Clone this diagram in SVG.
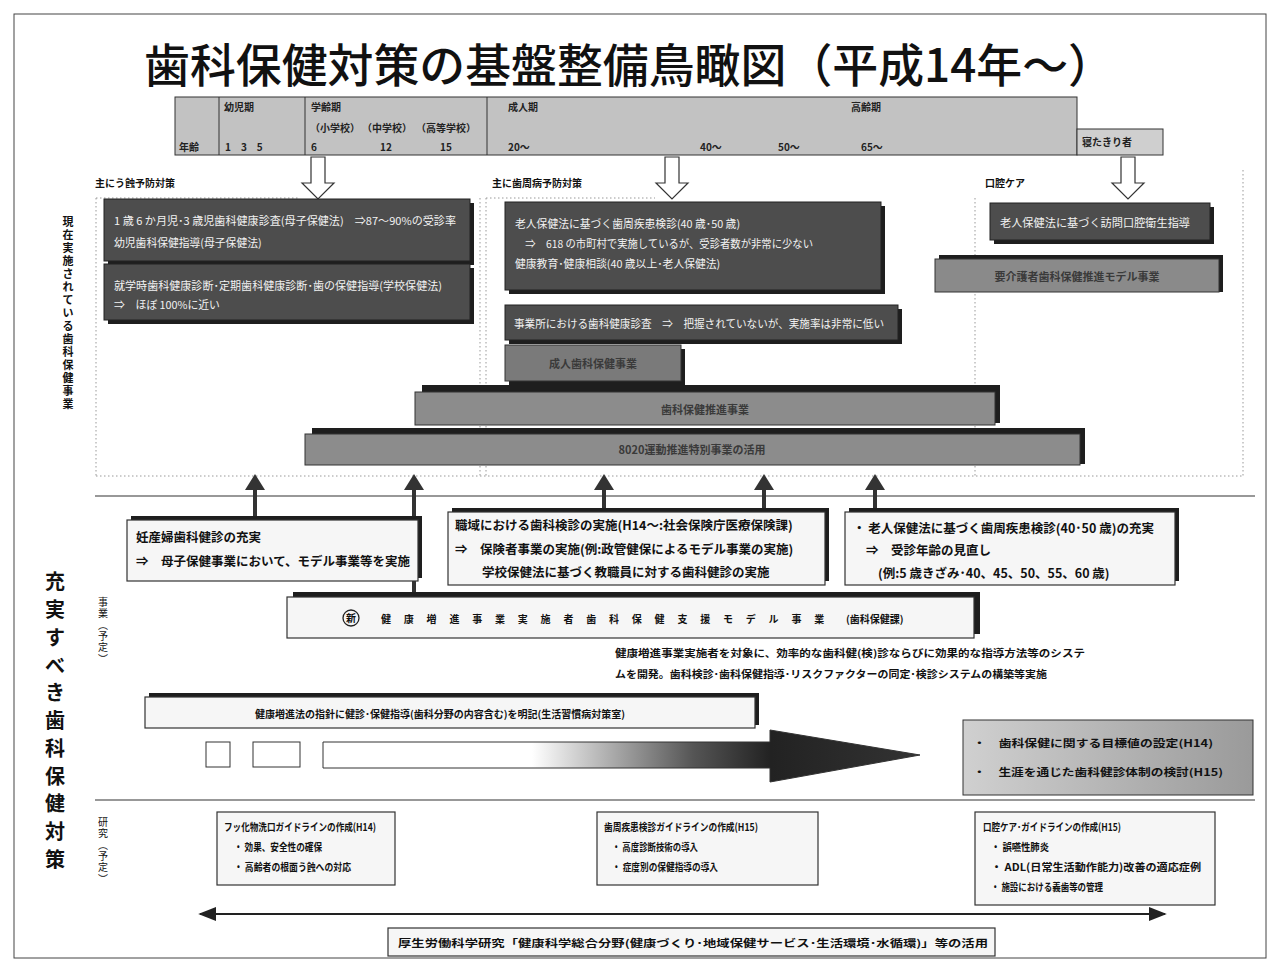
<svg xmlns="http://www.w3.org/2000/svg" width="1279" height="970" viewBox="0 0 1279 970">
<defs>
<style>
text{font-family:"Noto Sans CJK JP","Noto Sans CJK SC",sans-serif;fill:#111}
.w{fill:#f2f2f2;font-size:10.8px}
.hd{font-size:10px;font-weight:bold;fill:#222}
.sec{font-size:10px;font-weight:bold}
.b{font-size:12.5px;font-weight:bold}
.s{font-size:10px;font-weight:bold}
.bt{font-size:10.5px;font-weight:bold}
.dot{fill:none;stroke:#999;stroke-width:1;stroke-dasharray:1.5 2.5}
.dark{fill:#4d4d4d;stroke:#222;stroke-width:1}
.shd{fill:#1e1e1e}
.gray{fill:#8c8c8c;stroke:#333;stroke-width:1}
.lbox{fill:#f6f6f6;stroke:#333;stroke-width:1.2}
.line{stroke:#333;stroke-width:4;fill:none}
.up{fill:#333}
.open{fill:#fff;stroke:#333;stroke-width:1.2}
.gt{font-size:11px;font-weight:bold;fill:#3a3a3a}
</style>
<linearGradient id="ag" x1="0" y1="0" x2="1" y2="0">
<stop offset="0" stop-color="#fff"/>
<stop offset="0.35" stop-color="#fff"/>
<stop offset="0.62" stop-color="#555"/>
<stop offset="0.75" stop-color="#222"/>
<stop offset="1" stop-color="#333"/>
</linearGradient>
<linearGradient id="rg" x1="0" y1="0" x2="1" y2="0">
<stop offset="0" stop-color="#d0d0d0"/>
<stop offset="1" stop-color="#9a9a9a"/>
</linearGradient>
<marker id="ah" viewBox="0 0 10 10" refX="9" refY="5" markerWidth="9" markerHeight="9" orient="auto-start-reverse"><path d="M0,1 L10,5 L0,9 z" fill="#222"/></marker>
</defs>
<rect x="0" y="0" width="1279" height="970" fill="#fff"/>
<rect x="14" y="14" width="1252" height="944" fill="none" stroke="#444" stroke-width="1"/>

<g id="title"><text x="629" y="82" font-size="46" text-anchor="middle" textLength="970" lengthAdjust="spacingAndGlyphs" style="font-weight:500">歯科保健対策の基盤整備鳥瞰図（平成14年～）</text></g>

<g id="header">
<rect x="175" y="97" width="902" height="58" fill="#c2c2c2" stroke="#333"/>
<rect x="1077" y="129" width="86" height="26" fill="#cfcfcf" stroke="#333"/>
<line x1="219" y1="97" x2="219" y2="155" stroke="#333"/>
<line x1="305" y1="97" x2="305" y2="155" stroke="#333"/>
<line x1="487" y1="97" x2="487" y2="155" stroke="#333"/>
<text class="hd" x="224" y="111">幼児期</text>
<text class="hd" x="311" y="111">学齢期</text>
<text class="hd" x="310" y="132">（小学校）</text>
<text class="hd" x="362" y="132">（中学校）</text>
<text class="hd" x="416" y="132">（高等学校）</text>
<text class="hd" x="508" y="111">成人期</text>
<text class="hd" x="851" y="111">高齢期</text>
<text class="hd" x="179" y="151">年齢</text>
<text class="hd" x="225" y="151">1　3　5</text>
<text class="hd" x="311" y="151">6</text>
<text class="hd" x="380" y="151">12</text>
<text class="hd" x="440" y="151">15</text>
<text class="hd" x="508" y="151">20～</text>
<text class="hd" x="700" y="151">40～</text>
<text class="hd" x="778" y="151">50～</text>
<text class="hd" x="861" y="151">65～</text>
<text class="hd" x="1082" y="146">寝たきり者</text>
</g>

<g id="open-arrows">
<path class="open" d="M311,157 h14 v26 h9 l-16,16 l-16,-16 h9 z"/>
<path class="open" d="M665,157 h14 v26 h9 l-16,16 l-16,-16 h9 z"/>
<path class="open" d="M1121,157 h14 v26 h9 l-16,16 l-16,-16 h9 z"/>
</g>

<g id="sections">
<text class="sec" x="95" y="187">主にう蝕予防対策</text>
<text class="sec" x="492" y="187">主に歯周病予防対策</text>
<text class="sec" x="985" y="187">口腔ケア</text>
<path class="dot" d="M96,198 V476 M96,198 H300 M480,198 V476 M486,198 V476 M486,198 H655 M975,198 V476 M1243,170 V476 M96,476 H1243"/>
<text font-size="11" font-weight="bold" text-anchor="middle" x="68 68 68 68 68 68 68 68 68 68 68 68 68 68 68" y="226 239 252 265 278 291 304 317 330 343 356 369 382 395 408">現在実施されている歯科保健事業</text>
</g>

<g id="current-left">
<rect class="shd" x="108" y="203" width="366" height="62"/>
<rect class="dark" x="104" y="199" width="366" height="62"/>
<text class="w" x="114" y="225" textLength="342" lengthAdjust="spacingAndGlyphs">1 歳 6 か月児･3 歳児歯科健康診査(母子保健法)　⇒87～90%の受診率</text>
<text class="w" x="114" y="247">幼児歯科保健指導(母子保健法)</text>
<rect class="shd" x="108" y="268" width="366" height="56"/>
<rect class="dark" x="104" y="264" width="366" height="56"/>
<text class="w" x="114" y="290" textLength="328" lengthAdjust="spacingAndGlyphs">就学時歯科健康診断･定期歯科健康診断･歯の保健指導(学校保健法)</text>
<text class="w" x="114" y="309">⇒　ほぼ 100%に近い</text>
</g>

<g id="current-middle">
<rect class="shd" x="509" y="206" width="376" height="88"/>
<rect class="dark" x="505" y="202" width="376" height="88"/>
<text class="w" x="515" y="228">老人保健法に基づく歯周疾患検診(40 歳･50 歳)</text>
<text class="w" x="515" y="248" textLength="298" lengthAdjust="spacingAndGlyphs">　⇒　618 の市町村で実施しているが、受診者数が非常に少ない</text>
<text class="w" x="515" y="268">健康教育･健康相談(40 歳以上･老人保健法)</text>
<rect class="shd" x="509" y="309" width="393" height="35"/>
<rect class="dark" x="505" y="305" width="393" height="35"/>
<text class="w" x="514" y="328" textLength="370" lengthAdjust="spacingAndGlyphs">事業所における歯科健康診査　⇒　把握されていないが、実施率は非常に低い</text>
<rect class="shd" x="509" y="349" width="176" height="36"/>
<rect class="gray" x="505" y="345" width="176" height="36" style="fill:#7a7a7a"/>
<text class="gt" x="593" y="368" text-anchor="middle">成人歯科保健事業</text>
</g>

<g id="current-right">
<rect class="shd" x="994" y="207" width="220" height="37"/>
<rect class="dark" x="990" y="203" width="220" height="37"/>
<text class="w" x="1000" y="227" textLength="190" lengthAdjust="spacingAndGlyphs">老人保健法に基づく訪問口腔衛生指導</text>
<rect class="shd" x="939" y="255" width="284" height="37"/>
<rect class="gray" x="935" y="259" width="284" height="33" style="fill:#8a8a8a"/>
<text class="gt" x="1077" y="281" text-anchor="middle">要介護者歯科保健推進モデル事業</text>
</g>

<g id="bars">
<rect class="shd" x="422" y="385" width="578" height="38"/>
<rect class="gray" x="415" y="392" width="580" height="33"/>
<text class="gt" x="705" y="414" text-anchor="middle">歯科保健推進事業</text>
<rect class="shd" x="312" y="428" width="773" height="36"/>
<rect class="gray" x="305" y="434" width="775" height="31"/>
<text class="gt" x="692" y="454" text-anchor="middle">8020運動推進特別事業の活用</text>
</g>

<g id="dividers">
<line x1="95" y1="496" x2="1255" y2="496" stroke="#333" stroke-width="1.2"/>
<line x1="95" y1="800" x2="1255" y2="800" stroke="#333" stroke-width="1.2"/>
<text font-size="20" font-weight="bold" text-anchor="middle" x="55 55 55 55 55 55 55 55 55 55 55" y="589 617 645 673 700 728 756 784 811 839 867">充実すべき歯科保健対策</text>
<text font-size="10" text-anchor="middle" x="103 103 103 103 103 103" y="606 617 629 640 651 663">事業︵予定︶</text>
<text font-size="10" text-anchor="middle" x="103 103 103 103 103 103" y="826 837 849 860 871 883">研究︵予定︶</text>
</g>

<g id="connectors">
<line class="line" x1="255" y1="488" x2="255" y2="520"/>
<path class="up" d="M245,490 L255,474 L265,490 z"/>
<line class="line" x1="414" y1="488" x2="414" y2="598"/>
<path class="up" d="M404,490 L414,474 L424,490 z"/>
<line class="line" x1="604" y1="488" x2="604" y2="512"/>
<path class="up" d="M594,490 L604,474 L614,490 z"/>
<line class="line" x1="764" y1="488" x2="764" y2="512"/>
<path class="up" d="M754,490 L764,474 L774,490 z"/>
<line class="line" x1="875" y1="488" x2="875" y2="512"/>
<path class="up" d="M865,490 L875,474 L885,490 z"/>
<line x1="200" y1="914" x2="1165" y2="914" stroke="#222" stroke-width="2" marker-start="url(#ah)" marker-end="url(#ah)"/>
</g>

<g id="box-ninsanpu">
<rect class="shd" x="131" y="516" width="291" height="62"/>
<rect class="lbox" x="127" y="520" width="291" height="61"/>
<text class="b" x="136" y="542">妊産婦歯科健診の充実</text>
<text class="b" x="136" y="566">⇒　母子保健事業において、モデル事業等を実施</text>
</g>

<g id="box-shokuiki">
<rect class="shd" x="452" y="508" width="377" height="73"/>
<rect class="lbox" x="448" y="512" width="377" height="73"/>
<text class="b" x="455" y="530">職域における歯科検診の実施(H14～:社会保険庁医療保険課)</text>
<text class="b" x="455" y="554">⇒　保険者事業の実施(例:政管健保によるモデル事業の実施)</text>
<text class="b" x="482" y="577">学校保健法に基づく教職員に対する歯科健診の実施</text>
</g>

<g id="box-roujin">
<rect class="shd" x="849" y="508" width="330" height="73"/>
<rect class="lbox" x="845" y="512" width="330" height="73"/>
<text class="b" x="853" y="533">・ 老人保健法に基づく歯周疾患検診(40･50 歳)の充実</text>
<text class="b" x="866" y="555">⇒　受診年齢の見直し</text>
<text class="b" x="878" y="578">(例:5 歳きざみ･40、45、50、55、60 歳)</text>
</g>

<g id="box-kenkozoshin">
<rect class="shd" x="293" y="592" width="687" height="42"/>
<rect class="lbox" x="287" y="597" width="687" height="41"/>
<circle cx="351" cy="618" r="8" fill="none" stroke="#222" stroke-width="1.3"/>
<text x="351" y="622" font-size="10" font-weight="bold" text-anchor="middle">新</text>
<text class="s" x="381" y="623" letter-spacing="12.8">健康増進事業実施者歯科保健支援モデル事業</text>
<text class="s" x="846" y="623">(歯科保健課)</text>
<text class="s" x="615" y="657" textLength="470" lengthAdjust="spacingAndGlyphs">健康増進事業実施者を対象に、効率的な歯科健(検)診ならびに効果的な指導方法等のシステ</text>
<text class="s" x="615" y="678" textLength="432" lengthAdjust="spacingAndGlyphs">ムを開発。歯科検診･歯科保健指導･リスクファクターの同定･検診システムの構築等実施</text>
</g>

<g id="box-shishin">
<rect class="shd" x="149" y="693" width="610" height="32"/>
<rect class="lbox" x="145" y="697" width="610" height="31"/>
<text class="s" x="440" y="718" text-anchor="middle" font-size="11">健康増進法の指針に健診･保健指導(歯科分野の内容含む)を明記(生活習慣病対策室)</text>
</g>

<g id="big-arrow">
<rect x="206" y="742" width="24" height="25" fill="#fff" stroke="#333"/>
<rect x="253" y="742" width="47" height="25" fill="#fff" stroke="#333"/>
<path d="M323,742 H770 V730 L920,755 L770,782 V768 H323 z" fill="url(#ag)" stroke="#333"/>
</g>

<g id="box-goal">
<rect x="963" y="720" width="290" height="75" fill="url(#rg)" stroke="#333"/>
<text class="s" x="973" y="747" font-size="12" textLength="240" lengthAdjust="spacingAndGlyphs">・　歯科保健に関する目標値の設定(H14)</text>
<text class="s" x="973" y="776" font-size="12" textLength="250" lengthAdjust="spacingAndGlyphs">・　生涯を通じた歯科健診体制の検討(H15)</text>
</g>

<g id="box-fluoride">
<rect class="lbox" x="217" y="812" width="178" height="73" fill="#fafafa"/>
<text class="bt" x="224" y="831" textLength="152" lengthAdjust="spacingAndGlyphs">フッ化物洗口ガイドラインの作成(H14)</text>
<text class="bt" x="234" y="851" textLength="88" lengthAdjust="spacingAndGlyphs">・ 効果、安全性の確保</text>
<text class="bt" x="234" y="871" textLength="117" lengthAdjust="spacingAndGlyphs">・ 高齢者の根面う蝕への対応</text>
</g>

<g id="box-perio">
<rect class="lbox" x="597" y="812" width="221" height="73" fill="#fafafa"/>
<text class="bt" x="604" y="831" textLength="154" lengthAdjust="spacingAndGlyphs">歯周疾患検診ガイドラインの作成(H15)</text>
<text class="bt" x="612" y="851" textLength="86" lengthAdjust="spacingAndGlyphs">・ 高度診断技術の導入</text>
<text class="bt" x="612" y="871" textLength="106" lengthAdjust="spacingAndGlyphs">・ 症度別の保健指導の導入</text>
</g>

<g id="box-oralcare">
<rect class="lbox" x="975" y="812" width="240" height="93" fill="#fafafa"/>
<text class="bt" x="983" y="831" textLength="138" lengthAdjust="spacingAndGlyphs">口腔ケア･ガイドラインの作成(H15)</text>
<text class="bt" x="991" y="851" textLength="58" lengthAdjust="spacingAndGlyphs">・ 誤嚥性肺炎</text>
<text class="bt" x="991" y="871" textLength="210" lengthAdjust="spacingAndGlyphs">・ ADL(日常生活動作能力)改善の適応症例</text>
<text class="bt" x="991" y="891" textLength="112" lengthAdjust="spacingAndGlyphs">・ 施設における義歯等の管理</text>
</g>

<g id="box-research">
<rect class="lbox" x="388" y="928" width="607" height="28"/>
<text class="s" x="398" y="947" font-size="11" textLength="590" lengthAdjust="spacingAndGlyphs">厚生労働科学研究「健康科学総合分野(健康づくり･地域保健サービス･生活環境･水循環)」等の活用</text>
</g>
</svg>
